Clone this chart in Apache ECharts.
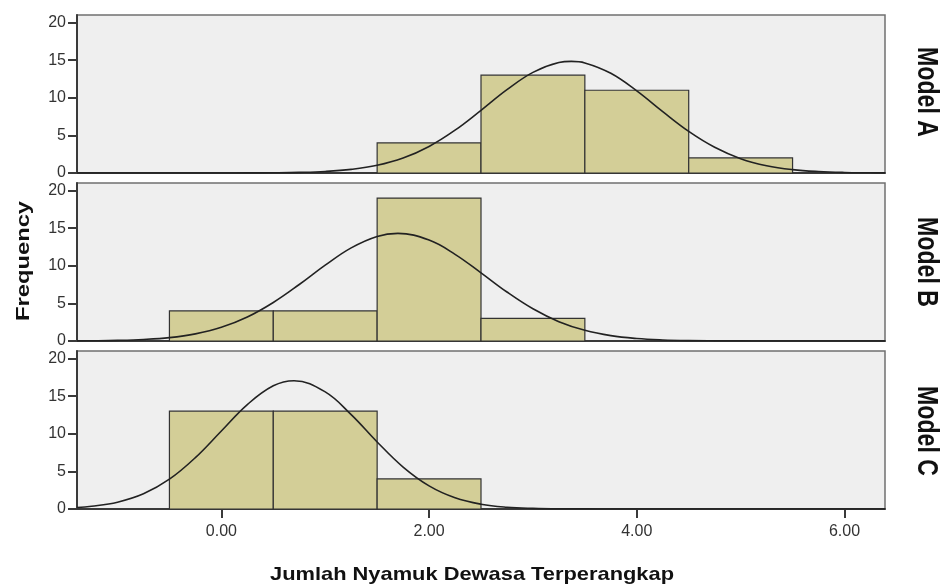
<!DOCTYPE html>
<html>
<head>
<meta charset="utf-8">
<script src="https://cdn.jsdelivr.net/npm/echarts@6/dist/echarts.min.js"></script>
<style>
html,body{margin:0;padding:0;background:#fff;}
#chart{width:940px;height:588px;}
</style>
</head>
<body>
<div id="chart"></div>
<script>
// ---- data ----
const panelNames = ['Model A', 'Model B', 'Model C'];
const binStarts = [-0.5, 0.5, 1.5, 2.5, 3.5, 4.5];
const binWidth = 1;
const countsA = [0, 0, 4, 13, 11, 2];
const countsB = [4, 4, 19, 3, 0, 0];
const countsC = [13, 13, 4, 0, 0, 0];
const xTickValues = [0, 2, 4, 6];
const yTickValues = [0, 5, 10, 15, 20];
const xTitle = 'Jumlah Nyamuk Dewasa Terperangkap';
const yTitle = 'Frequency';
// fitted normal curves
const curveXA = [-1.39, -1.25, -1.0, -0.75, -0.5, -0.25, 0, 0.25, 0.5, 0.75, 1.0, 1.25, 1.5, 1.75, 2.0, 2.25, 2.5, 2.75, 3.0, 3.25, 3.37, 3.5, 3.75, 4.0, 4.25, 4.5, 4.75, 5.0, 5.25, 5.5, 5.75, 6.0, 6.25, 6.39];
const curveA  = [0, 0, 0, 0, 0, 0, 0, 0.01, 0.03, 0.08, 0.20, 0.48, 1.02, 1.99, 3.53, 5.69, 8.33, 11.07, 13.37, 14.68, 14.83, 14.63, 13.25, 10.91, 8.15, 5.53, 3.42, 1.91, 0.97, 0.45, 0.19, 0.07, 0.03, 0.01];
const curveXB = [-1.39, -1.25, -1.0, -0.75, -0.5, -0.25, 0, 0.25, 0.5, 0.75, 1.0, 1.25, 1.5, 1.70, 2.0, 2.25, 2.5, 2.75, 3.0, 3.25, 3.5, 3.75, 4.0, 4.25, 4.5, 4.75, 5.0, 5.25, 5.5, 5.75, 6.0, 6.25, 6.39];
const curveB  = [0.02, 0.03, 0.08, 0.20, 0.45, 0.95, 1.82, 3.19, 5.12, 7.51, 10.08, 12.38, 13.90, 14.30, 13.41, 11.52, 9.06, 6.51, 4.28, 2.57, 1.42, 0.71, 0.33, 0.14, 0.05, 0.02, 0.01, 0, 0, 0, 0, 0, 0];
const curveXC = [-1.39, -1.25, -1.0, -0.75, -0.5, -0.25, 0, 0.25, 0.5, 0.70, 1.0, 1.25, 1.5, 1.75, 2.0, 2.25, 2.5, 2.75, 3.0, 3.25, 3.5, 3.75, 4.0, 4.25, 4.5, 4.75, 5.0, 5.25, 5.5, 5.75, 6.0, 6.25, 6.39];
const curveC  = [0.20, 0.36, 0.91, 2.02, 3.96, 6.83, 10.37, 13.88, 16.37, 17.05, 15.56, 12.54, 8.91, 5.57, 3.07, 1.49, 0.64, 0.24, 0.08, 0.02, 0.01, 0, 0, 0, 0, 0, 0, 0, 0, 0, 0, 0, 0];

const counts = [countsA, countsB, countsC];
const curveXs = [curveXA, curveXB, curveXC];
const curves = [curveA, curveB, curveC];

// ---- layout ----
const FONT = 'Liberation Sans, Arial, sans-serif';
const gridTops = [15, 183, 351];
const gridH = 158;
const X_MIN = -1.39, X_MAX = 6.39;

const grids = [], xAxes = [], yAxes = [], series = [];
for (let i = 0; i < 3; i++) {
  const isBottom = i === 2;
  grids.push({
    left: 77, right: 55, top: gridTops[i], height: gridH,
    show: true, backgroundColor: '#efefef', borderColor: '#707070', borderWidth: 1.5
  });
  xAxes.push({
    gridIndex: i, type: 'value', min: X_MIN, max: X_MAX,
    axisLine: { show: true, onZero: false, lineStyle: { color: '#3a3a3a', width: 2 } },
    axisTick: { show: isBottom, length: 9, customValues: xTickValues, lineStyle: { color: '#3a3a3a', width: 2 } },
    axisLabel: {
      show: isBottom, customValues: xTickValues, margin: 15,
      fontFamily: FONT, fontSize: 16, color: '#333333',
      formatter: v => v.toFixed(2)
    },
    splitLine: { show: false }
  });
  yAxes.push({
    gridIndex: i, type: 'value', min: 0, max: 21,
    axisLine: { show: true, onZero: false, lineStyle: { color: '#3a3a3a', width: 2 } },
    axisTick: { show: true, length: 9, customValues: yTickValues, lineStyle: { color: '#3a3a3a', width: 2 } },
    axisLabel: { customValues: yTickValues, margin: 11, fontFamily: FONT, fontSize: 16, color: '#333333' },
    splitLine: { show: false }
  });
  const barData = [];
  counts[i].forEach((c, k) => { if (c > 0) barData.push([binStarts[k], binStarts[k] + binWidth, c]); });
  series.push({
    type: 'custom', xAxisIndex: i, yAxisIndex: i, z: 2,
    data: barData, encode: { x: [0, 1], y: 2 },
    renderItem: function (params, api) {
      const p0 = api.coord([api.value(0), api.value(2)]);
      const p1 = api.coord([api.value(1), 0]);
      return {
        type: 'rect',
        shape: { x: p0[0], y: p0[1], width: p1[0] - p0[0], height: p1[1] - p0[1] },
        style: { fill: '#d3ce97', stroke: '#333333', lineWidth: 1.2 }
      };
    }
  });
  series.push({
    type: 'line', xAxisIndex: i, yAxisIndex: i, z: 3,
    data: curveXs[i].map((x, k) => [x, curves[i][k]]),
    showSymbol: false, smooth: 0.4, clip: true,
    lineStyle: { color: '#222222', width: 1.6 }
  });
}

const graphics = [
  {
    type: 'text', x: 472, y: 575,
    scaleX: 1.15, scaleY: 1.0,
    style: { text: xTitle, font: 'bold 19px ' + FONT, fill: '#111', align: 'center', verticalAlign: 'middle' }
  },
  {
    type: 'text', x: 24, y: 261, rotation: Math.PI / 2,
    scaleX: 1.25, scaleY: 1.0,
    style: { text: yTitle, font: 'bold 19px ' + FONT, fill: '#111', align: 'center', verticalAlign: 'middle' }
  }
];
const modelCenters = [92, 262, 431];
panelNames.forEach((name, i) => {
  graphics.push({
    type: 'text', x: 926, y: modelCenters[i], rotation: -Math.PI / 2,
    scaleX: 1.05, scaleY: 1.35,
    style: { text: name, font: 'bold 22px ' + FONT, fill: '#111', align: 'center', verticalAlign: 'middle' }
  });
});

const chart = echarts.init(document.getElementById('chart'), null, { renderer: 'canvas' });
chart.setOption({
  animation: false,
  backgroundColor: '#ffffff',
  grid: grids, xAxis: xAxes, yAxis: yAxes, series: series,
  graphic: graphics
});
</script>
</body>
</html>
